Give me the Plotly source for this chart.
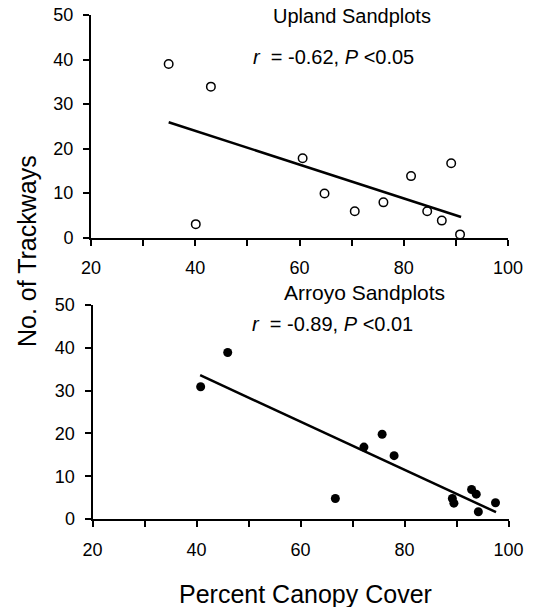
import plotly.graph_objects as go

# ---- Data ----
upland_cover = [34.9, 40.1, 43.0, 60.6, 64.8, 70.6, 76.1, 81.4, 84.5, 87.3, 89.1, 90.8]
upland_tracks = [39.0, 3.0, 33.9, 17.8, 9.9, 5.9, 7.9, 13.8, 5.9, 3.8, 16.7, 0.7]
upland_fit_x = [34.9, 91.0]
upland_fit_y = [25.9, 4.6]

arroyo_cover = [40.8, 46.0, 66.7, 72.2, 75.7, 78.0, 89.2, 89.5, 92.9, 93.8, 94.2, 97.5]
arroyo_tracks = [30.9, 38.9, 4.8, 16.8, 19.8, 14.8, 4.8, 3.7, 6.9, 5.8, 1.7, 3.8]
arroyo_fit_x = [40.7, 97.6]
arroyo_fit_y = [33.6, 1.6]

x_range = [20, 100]
y_range = [0, 50]

W, H = 534, 607
FONT = "Liberation Sans, Arial, Helvetica, sans-serif"

fig = go.Figure()

# Upland panel
fig.add_trace(go.Scatter(x=upland_fit_x, y=upland_fit_y, mode="lines",
                         line=dict(color="black", width=2.5),
                         xaxis="x", yaxis="y", showlegend=False, hoverinfo="skip"))
fig.add_trace(go.Scatter(x=upland_cover, y=upland_tracks, mode="markers",
                         marker=dict(symbol="circle-open", size=8.5, color="black",
                                     line=dict(width=1.5, color="black")),
                         cliponaxis=False, xaxis="x", yaxis="y", showlegend=False))

# Arroyo panel
fig.add_trace(go.Scatter(x=arroyo_fit_x, y=arroyo_fit_y, mode="lines",
                         line=dict(color="black", width=2.5),
                         xaxis="x2", yaxis="y2", showlegend=False, hoverinfo="skip"))
fig.add_trace(go.Scatter(x=arroyo_cover, y=arroyo_tracks, mode="markers",
                         marker=dict(symbol="circle", size=9, color="black"),
                         cliponaxis=False, xaxis="x2", yaxis="y2", showlegend=False))


def xaxis_style(domain, anchor):
    return dict(domain=domain, anchor=anchor, range=x_range, dtick=20, tick0=20,
                showline=True, linecolor="black", linewidth=2,
                ticks="outside", ticklen=6, tickwidth=2, tickcolor="black",
                ticklabelstandoff=7,
                minor=dict(dtick=10, tick0=20, ticks="outside", ticklen=6,
                           tickwidth=2, tickcolor="black", showgrid=False),
                showgrid=False, zeroline=False,
                tickfont=dict(family=FONT, size=18, color="black"))


def yaxis_style(domain, anchor):
    return dict(domain=domain, anchor=anchor, range=y_range, dtick=10, tick0=0,
                showline=True, linecolor="black", linewidth=2,
                ticks="outside", ticklen=6, tickwidth=2, tickcolor="black",
                ticklabelstandoff=6,
                showgrid=False, zeroline=False,
                tickfont=dict(family=FONT, size=18, color="black"))


def px_x(v):
    return v / W


def px_y(v):
    return 1 - v / H


fig.update_layout(
    width=W, height=H,
    margin=dict(l=0, r=0, t=0, b=0, autoexpand=False),
    paper_bgcolor="white", plot_bgcolor="white",
    xaxis=xaxis_style([px_x(91), px_x(508)], "y"),
    yaxis=yaxis_style([px_y(237.5), px_y(15)], "x"),
    xaxis2=xaxis_style([px_x(92.5), px_x(508.5)], "y2"),
    yaxis2=yaxis_style([px_y(519), px_y(305)], "x2"),
    font=dict(family=FONT, color="black"),
)

ann = [
    dict(text="Upland Sandplots", x=px_x(352), y=px_y(16), size=20),
    dict(text="<i>r</i>  = -0.62, <i>P</i> <0.05", x=px_x(333), y=px_y(57), size=20),
    dict(text="Arroyo Sandplots", x=px_x(364), y=px_y(292), size=21),
    dict(text="<i>r</i>  = -0.89, <i>P</i> <0.01", x=px_x(332), y=px_y(324), size=20),
    dict(text="Percent Canopy Cover", x=px_x(305), y=px_y(594), size=25),
]
for a in ann:
    fig.add_annotation(text=a["text"], x=a["x"], y=a["y"], xref="paper", yref="paper",
                       xanchor="center", yanchor="middle", showarrow=False,
                       font=dict(family=FONT, size=a["size"], color="black"))

fig.add_annotation(text="No. of Trackways", x=px_x(27), y=px_y(251), xref="paper", yref="paper",
                   xanchor="center", yanchor="middle", showarrow=False, textangle=-90,
                   font=dict(family=FONT, size=25, color="black"))

fig.write_html("out.html",
               config={"displayModeBar": False},
               post_script="document.body.style.margin='0';document.body.style.padding='0';"
                           "document.body.style.overflow='hidden';")
